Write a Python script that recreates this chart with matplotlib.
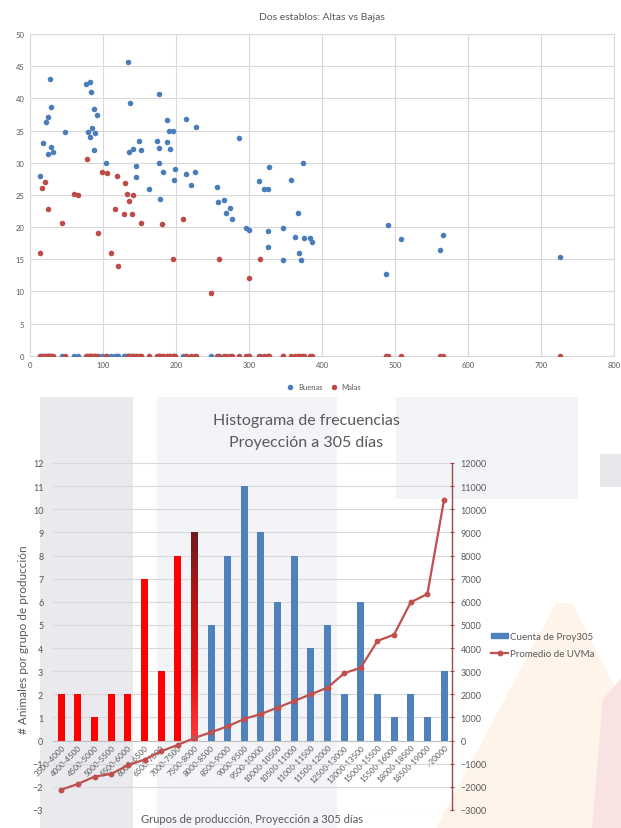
import matplotlib
matplotlib.use("Agg")
import matplotlib.pyplot as plt
import numpy as np
from matplotlib.patches import Rectangle, Polygon, Patch
from matplotlib.lines import Line2D
from matplotlib.colors import LinearSegmentedColormap

plt.rcParams['font.family'] = ['Lato', 'DejaVu Sans']

# ---------------- Top chart data: Dos establos ----------------
buenas_x = [13.2, 18.2, 27.3, 22.3, 24.1, 29.1, 29.1, 24.5, 31.4, 47.7,
            77.3, 81.8, 84.1, 88.2, 91.8, 84.5, 79.1, 88.6, 81.8, 87.7,
            104.5, 133.6, 136.4, 135.5, 141.4, 149.5, 151.8, 145.0, 145.5, 163.6,
            173.2, 177.3, 177.3, 176.4, 178.6, 182.3, 187.3, 188.2, 190.5, 195.5,
            191.4, 198.2, 197.7, 214.1, 214.1, 220.5, 226.4, 227.7, 256.4, 256.8,
            265.9, 268.6, 274.1, 275.9, 286.8, 295.5, 300.5, 313.6, 320.5, 325.9,
            325.5, 325.9, 327.7, 346.8, 346.8, 357.7, 363.2, 366.8, 367.7, 370.5,
            373.2, 374.5, 383.6, 386.4, 486.8, 489.5, 507.8, 561.6, 565.3, 725.6]
buenas_y = [27.9, 33.0, 43.0, 36.3, 37.1, 38.6, 32.4, 31.4, 31.6, 34.8,
            42.3, 42.5, 41.0, 38.3, 37.4, 35.4, 34.8, 34.6, 34.0, 31.9,
            29.9, 45.6, 39.3, 31.6, 32.1, 33.3, 31.9, 29.5, 27.7, 25.9,
            33.3, 40.7, 32.3, 29.9, 24.4, 28.6, 36.7, 33.2, 35.0, 35.0,
            32.2, 29.0, 27.3, 36.8, 28.2, 26.5, 28.5, 35.6, 26.2, 23.9,
            24.2, 22.2, 23.0, 21.2, 33.9, 19.8, 19.6, 27.2, 25.9, 25.9,
            19.4, 16.9, 29.4, 19.9, 14.8, 27.3, 18.5, 22.2, 15.9, 14.8,
            29.9, 18.3, 18.3, 17.6, 12.7, 20.3, 18.2, 16.4, 18.8, 15.4]
malas_x = [13.6, 15.9, 20.5, 24.1, 43.6, 60.9, 66.4, 77.7, 92.7, 98.6,
           105.5, 110.9, 116.4, 118.6, 120.5, 128.6, 130.5, 132.3, 135.5, 139.1,
           141.4, 151.4, 181.4, 195.9, 210.0, 247.3, 258.2, 300.0, 315.0]
malas_y = [16.0, 26.0, 27.0, 22.8, 20.7, 25.2, 24.9, 30.5, 19.1, 28.6,
           28.4, 16.0, 22.8, 28.0, 14.0, 22.1, 26.8, 25.2, 24.1, 22.1,
           25.0, 20.7, 20.5, 15.1, 21.2, 9.8, 15.1, 12.0, 15.0]

# ---------------- Bottom chart data: Histograma ----------------
grupos = ['3500-4000', '4000-4500', '4500-5000', '5000-5500', '5500-6000',
          '6000-6500', '6500-7000', '7000-7500', '7500-8000', '8000-8500',
          '8500-9000', '9000-9500', '9500-10000', '10000-10500', '10500-11000',
          '11000-11500', '11500-12000', '12500-13000', '13000-13500', '15000-15500',
          '15500-16000', '18000-18500', '18500-19000', '>20000']
cuenta_proy305 = [2, 2, 1, 2, 2, 7, 3, 8, 9, 5, 8, 11, 9, 6, 8, 4, 5, 2, 6, 2, 1, 2, 1, 3]
promedio_uvma = [-2118, -1873, -1556, -1441, -1066, -821, -461, -187, 115, 360,
                 620, 937, 1153, 1427, 1715, 2003, 2291, 2911, 3156, 4308,
                 4582, 5980, 6340, 10403]
nivel = ['bajo'] * 8 + ['limite'] + ['alto'] * 15

W, H = 621, 829
fig = plt.figure(figsize=(W / 100, H / 100), dpi=100)


def fx(px):
    return px / W


def fy(py):
    return 1 - py / H


# decorative watermark shapes behind the lower chart
def frect(x0, y0, x1, y1, color):
    fig.add_artist(Rectangle((fx(x0), fy(y1)), fx(x1) - fx(x0), fy(y0) - fy(y1),
                             transform=fig.transFigure, facecolor=color,
                             edgecolor='none', zorder=-10))


def fpoly(pts, color):
    fig.add_artist(Polygon([(fx(a), fy(b)) for a, b in pts], closed=True,
                           transform=fig.transFigure, facecolor=color,
                           edgecolor='none', zorder=-10))


frect(40, 398, 133, 829, '#E9E9EE')
frect(157, 398, 337, 829, '#F3F4F7')
frect(396, 398, 578, 500, '#F3F4F7')
frect(600, 455, 621, 488, '#E7E7EC')
fpoly([(556, 604), (572, 604), (621, 700), (621, 829), (436, 829)], '#FEF4EA')
fpoly([(603, 700), (621, 680), (621, 829), (592, 829)], '#F9E2E2')

grey = '#595959'
gridc = '#D9D9D9'

# ---------------- Top scatter ----------------
ax1 = fig.add_axes([fx(30), fy(356.7), fx(614.3) - fx(30), fy(35) - fy(356.7)])
todos_x = buenas_x + malas_x
serie_buenas = buenas_y + [0] * len(malas_x)
serie_malas = [0] * len(buenas_x) + malas_y
ax1.scatter(todos_x, serie_buenas, s=16, color='#4A7EBB', label='Buenas', zorder=3, linewidths=0)
ax1.scatter(todos_x, serie_malas, s=16, color='#BE4B48', label='Malas', zorder=4, linewidths=0)
ax1.set_xlim(0, 800)
ax1.set_ylim(0, 50)
ax1.set_xticks(np.arange(0, 801, 100))
ax1.set_yticks(np.arange(0, 51, 5))
ax1.grid(True, color=gridc, linewidth=0.8)
ax1.set_axisbelow(True)
for s in ax1.spines.values():
    s.set_color(gridc)
    s.set_linewidth(0.8)
ax1.tick_params(length=0, labelsize=5.5, colors=grey, pad=4)
fig.text(fx(322), fy(17), 'Dos establos: Altas vs Bajas', ha='center', va='center',
         fontsize=7.5, color=grey)
ax1.legend(loc='center', bbox_to_anchor=(fx(322), fy(388)), bbox_transform=fig.transFigure,
           ncol=2, frameon=False, fontsize=5.5, handletextpad=0.0, columnspacing=0.5,
           markerscale=1.0, labelcolor=grey)

# ---------------- Bottom histogram ----------------
ax2 = fig.add_axes([fx(53), fy(811), fx(451.5) - fx(53), fy(464) - fy(811)])
ax2.set_facecolor('none')
colores = {'bajo': '#FF0000', 'limite': '#FF0000', 'alto': '#4F81BD'}
x = np.arange(len(grupos))
bars = ax2.bar(x, cuenta_proy305, width=0.42, color=[colores[n] for n in nivel], zorder=3)
cmap = LinearSegmentedColormap.from_list('g', ['#6E1C1C', '#B81515', '#E61010', '#FF3A3A'])
for b, n in zip(bars, nivel):
    if n == 'limite':
        grad = np.linspace(0, 1, 256).reshape(-1, 1)
        im = ax2.imshow(grad, cmap=cmap, aspect='auto', origin='upper',
                        extent=[b.get_x(), b.get_x() + b.get_width(), 0, b.get_height()],
                        zorder=3.5)
        im.set_clip_path(b)
ax2.set_xlim(-0.5, 23.45)
ax2.set_ylim(-3, 12)
ax2.set_yticks(np.arange(-3, 13, 1))
ax2.grid(axis='y', color=gridc, linewidth=0.8, zorder=0)
ax2.set_axisbelow(True)
for k in ['top', 'left', 'right']:
    ax2.spines[k].set_visible(False)
ax2.spines['bottom'].set_position(('data', 0))
ax2.spines['bottom'].set_color('#BFBFBF')
ax2.spines['bottom'].set_linewidth(0.8)
ax2.set_xticks(x)
ax2.set_xticklabels(grupos, rotation=45, ha='right', rotation_mode='anchor',
                    fontsize=5.8, color=grey)
ax2.tick_params(axis='x', length=0, pad=2)
ax2.tick_params(axis='y', length=0, labelsize=6.5, colors=grey, pad=7)

ax3 = ax2.twinx()
ax3.plot(x, promedio_uvma, color='#C0504D', linewidth=1.6, marker='o', markersize=3.2, zorder=5)
ax3.set_ylim(-3000, 12000)
ax3.set_yticks(np.arange(-3000, 12001, 1000))
for k in ['top', 'left', 'bottom']:
    ax3.spines[k].set_visible(False)
ax3.spines['right'].set_color('#9E4A4A')
ax3.spines['right'].set_linewidth(1.0)
ax3.tick_params(axis='y', direction='inout', length=3, color='#9E4A4A', labelsize=6.5,
                labelcolor=grey, pad=5)

fig.text(fx(306), fy(421), 'Histograma de frecuencias', ha='center', va='center',
         fontsize=11.5, color=grey)
fig.text(fx(306), fy(443), 'Proyección a 305 días', ha='center', va='center',
         fontsize=11.5, color=grey)
fig.text(fx(24), fy(640), '# Animales por grupo de producción', rotation=90,
         ha='center', va='center', fontsize=8.5, color=grey)
fig.text(fx(252), fy(820), 'Grupos de producción, Proyección a 305 días', ha='center',
         va='center', fontsize=8, color=grey)

handles = [Patch(color='#4F81BD'),
           Line2D([0], [0], color='#C0504D', linewidth=1.6, marker='o', markersize=3.2)]
fig.legend(handles, ['Cuenta de Proy305', 'Promedio de UVMa'], loc='center left',
           bbox_to_anchor=(fx(482), fy(646)), frameon=False, fontsize=7,
           handlelength=1.8, handleheight=0.5, handletextpad=0.15, labelspacing=0.8,
           labelcolor=grey)

fig.savefig('out.png', dpi=100)
